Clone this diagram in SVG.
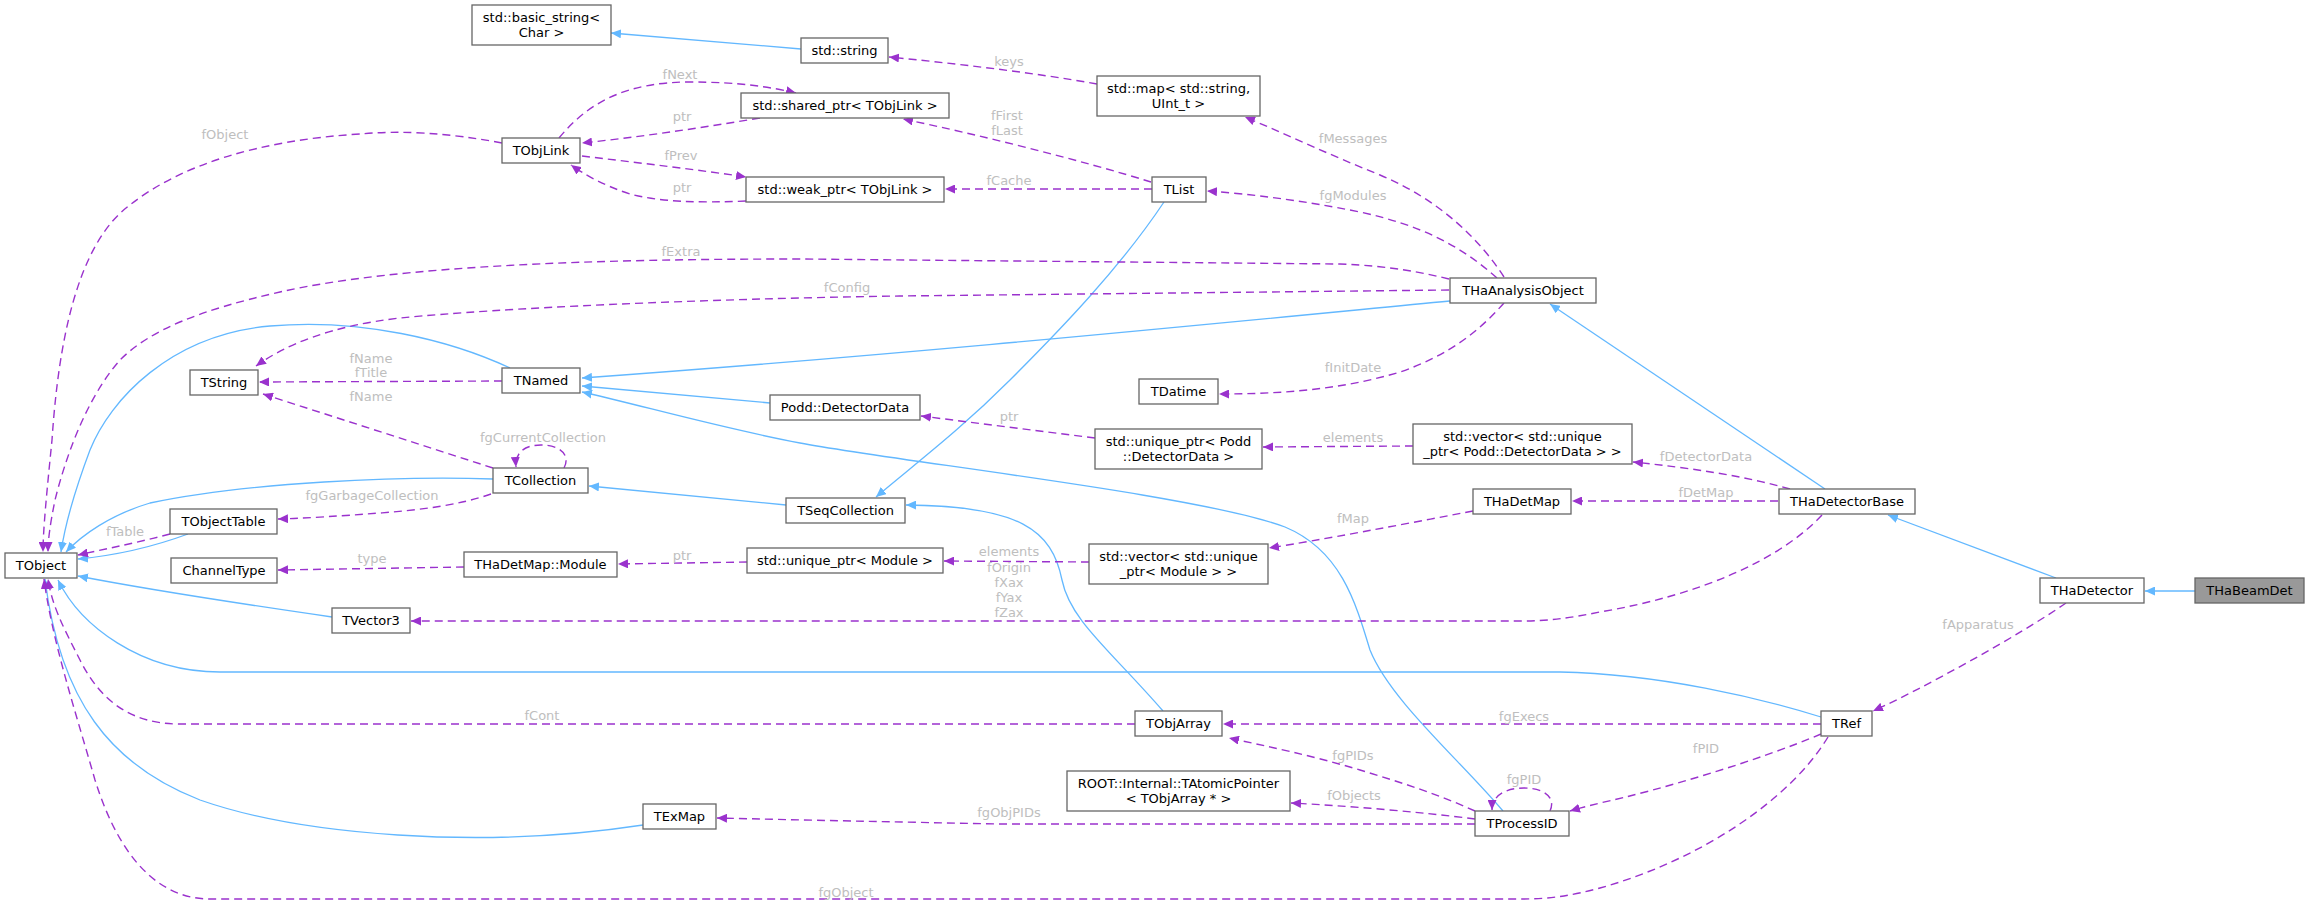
<svg xmlns="http://www.w3.org/2000/svg" width="2309" height="905" viewBox="0 0 2309 905">
<style>
.n rect{fill:#fff;stroke:#666;stroke-width:1.3}
.n text{font-family:"DejaVu Sans",sans-serif;font-size:13px;fill:#000;text-anchor:middle}
.cur rect{fill:#999}
.b{fill:none;stroke:#63b8ff;stroke-width:1.3}
.p{fill:none;stroke:#9a32cd;stroke-width:1.4;stroke-dasharray:8,5}
.l{font-family:"DejaVu Sans",sans-serif;font-size:13px;fill:#bebebe;text-anchor:middle}
</style>
<defs>
<marker id="ab" viewBox="0 0 10 9" refX="10" refY="4.5" markerWidth="10" markerHeight="9" markerUnits="userSpaceOnUse" orient="auto"><path d="M0,0 L10,4.5 L0,9 z" fill="#63b8ff"/></marker>
<marker id="ap" viewBox="0 0 10 9" refX="10" refY="4.5" markerWidth="10" markerHeight="9" markerUnits="userSpaceOnUse" orient="auto"><path d="M0,0 L10,4.5 L0,9 z" fill="#9a32cd"/></marker>
</defs>
<rect width="2309" height="905" fill="#fff"/>
<g id="edges">
<g marker-end="url(#ab)">
<path class="b" d="M801,49 L611,33"/>
<path class="b" d="M1164,202 C1120,268 1060,330 1010,380 C960,430 920,460 876,497"/>
<path class="b" d="M1450,301 C1200,325 900,355 582,378"/>
<path class="b" d="M510,368 C450,340 360,318 270,326 C170,335 110,400 90,450 C75,490 65,525 61,552"/>
<path class="b" d="M770,403 L582,386"/>
<path class="b" d="M1503,811 C1460,760 1390,700 1370,650 C1355,600 1340,550 1285,527 C1200,495 900,462 800,443 C720,428 640,405 582,392"/>
<path class="b" d="M493,479 C400,476 250,482 150,503 C110,515 82,535 66,552"/>
<path class="b" d="M786,505 L589,486"/>
<path class="b" d="M188,534 C150,548 110,556 78,559"/>
<path class="b" d="M332,617 C270,608 160,592 78,576"/>
<path class="b" d="M1163,711 C1110,650 1070,620 1062,580 C1052,530 1020,506 906,505"/>
<path class="b" d="M1821,717 C1760,698 1660,674 1560,672 L220,672 C140,672 80,625 58,580"/>
<path class="b" d="M643,825 C480,850 300,835 200,800 C110,765 60,700 45,579"/>
<path class="b" d="M1825,489 L1550,304"/>
<path class="b" d="M2056,578 L1888,515"/>
<path class="b" d="M2195,591 L2145,591"/>
</g>
<g marker-end="url(#ap)">
<path class="p" d="M502,143 C450,133 400,130 360,134 C260,140 180,165 130,205 C75,245 58,350 52,440 C47,490 43,530 43,552"/>
<path class="p" d="M559,138 C590,100 630,82 690,82 C740,82 770,87 796,93"/>
<path class="p" d="M760,118 C700,128 640,137 582,143"/>
<path class="p" d="M582,156 C640,163 700,170 746,177"/>
<path class="p" d="M746,201 C700,203 660,202 630,194 C605,186 585,175 571,165"/>
<path class="p" d="M1097,84 C1030,72 950,63 889,57"/>
<path class="p" d="M1151,182 C1080,160 980,135 903,119"/>
<path class="p" d="M1152,189 L945,189"/>
<path class="p" d="M1504,277 C1480,240 1440,200 1380,175 C1330,155 1290,136 1245,117"/>
<path class="p" d="M1497,278 C1460,245 1420,225 1360,212 C1300,200 1250,194 1207,191"/>
<path class="p" d="M1449,279 C1420,272 1390,266 1340,264 L800,259 C600,259 400,265 280,292 C200,310 150,330 120,360 C85,400 65,460 55,500 C50,525 48,540 48,552"/>
<path class="p" d="M1449,290 L900,296 C700,299 500,308 400,318 C330,326 285,345 256,366"/>
<path class="p" d="M502,381 L259,382"/>
<path class="p" d="M493,468 L263,394"/>
<path class="p" d="M564,468 C571,455 560,445 541,445 C524,445 515,453 516,467"/>
<path class="p" d="M491,494 C460,505 420,510 380,513 C340,516 310,518 278,519"/>
<path class="p" d="M170,534 C140,542 110,548 78,555"/>
<path class="p" d="M464,567 L278,570"/>
<path class="p" d="M747,562 L618,564"/>
<path class="p" d="M1095,438 L921,416"/>
<path class="p" d="M1413,446 L1263,447"/>
<path class="p" d="M1089,562 L944,561"/>
<path class="p" d="M1473,511 C1400,525 1320,540 1269,548"/>
<path class="p" d="M1504,303 C1480,330 1450,355 1400,372 C1340,390 1280,394 1219,394"/>
<path class="p" d="M1790,489 C1740,475 1690,468 1633,462"/>
<path class="p" d="M1778,501 L1572,501"/>
<path class="p" d="M1822,515 C1780,560 1700,595 1600,612 C1570,618 1550,621 1520,621 L411,621"/>
<path class="p" d="M2066,603 C2020,635 1920,690 1873,711"/>
<path class="p" d="M1821,724 L1223,724"/>
<path class="p" d="M1821,734 C1760,760 1660,790 1600,803 C1588,806 1580,808 1570,811"/>
<path class="p" d="M1828,737 C1790,800 1700,860 1600,888 C1570,896 1550,899 1520,899 L210,899 C160,899 120,860 95,780 C75,710 52,640 44,579"/>
<path class="p" d="M1135,724 L180,724 C130,724 100,700 80,660 C62,625 52,605 48,579"/>
<path class="p" d="M1550,811 C1556,798 1545,788 1524,788 C1505,788 1492,796 1492,810"/>
<path class="p" d="M1475,811 C1440,795 1400,782 1360,770 C1310,755 1270,747 1229,738"/>
<path class="p" d="M1475,819 C1420,812 1350,806 1291,803"/>
<path class="p" d="M1475,824 L1000,824 C900,822 800,820 717,818"/>
</g>
<text class="l" x="225" y="139">fObject</text>
<text class="l" x="680" y="79">fNext</text>
<text class="l" x="682" y="121">ptr</text>
<text class="l" x="681" y="160">fPrev</text>
<text class="l" x="682" y="192">ptr</text>
<text class="l" x="681" y="256">fExtra</text>
<text class="l" x="1009" y="66">keys</text>
<text class="l" x="1007" y="120">fFirst</text>
<text class="l" x="1007" y="135">fLast</text>
<text class="l" x="1009" y="185">fCache</text>
<text class="l" x="1353" y="143">fMessages</text>
<text class="l" x="1353" y="200">fgModules</text>
<text class="l" x="847" y="292">fConfig</text>
<text class="l" x="371" y="363">fName</text>
<text class="l" x="371" y="377">fTitle</text>
<text class="l" x="371" y="401">fName</text>
<text class="l" x="543" y="442">fgCurrentCollection</text>
<text class="l" x="372" y="500">fgGarbageCollection</text>
<text class="l" x="125" y="536">fTable</text>
<text class="l" x="372" y="563">type</text>
<text class="l" x="682" y="560">ptr</text>
<text class="l" x="1353" y="372">fInitDate</text>
<text class="l" x="1009" y="421">ptr</text>
<text class="l" x="1353" y="442">elements</text>
<text class="l" x="1353" y="523">fMap</text>
<text class="l" x="1009" y="556">elements</text>
<text class="l" x="1009" y="572">fOrigin</text>
<text class="l" x="1009" y="587">fXax</text>
<text class="l" x="1009" y="602">fYax</text>
<text class="l" x="1009" y="617">fZax</text>
<text class="l" x="1706" y="461">fDetectorData</text>
<text class="l" x="1706" y="497">fDetMap</text>
<text class="l" x="542" y="720">fCont</text>
<text class="l" x="1524" y="721">fgExecs</text>
<text class="l" x="1353" y="760">fgPIDs</text>
<text class="l" x="1354" y="800">fObjects</text>
<text class="l" x="1524" y="784">fgPID</text>
<text class="l" x="1009" y="817">fgObjPIDs</text>
<text class="l" x="846" y="897">fgObject</text>
<text class="l" x="1978" y="629">fApparatus</text>
<text class="l" x="1706" y="753">fPID</text>
</g>
<g id="THaBeamDet" class="n cur"><rect x="2195" y="578" width="109" height="25"/><text x="2249.5" y="595">THaBeamDet</text></g>
<g id="THaDetector" class="n"><rect x="2040" y="578" width="104" height="25"/><text x="2092" y="595">THaDetector</text></g>
<g id="THaDetectorBase" class="n"><rect x="1779" y="489" width="136" height="25"/><text x="1847" y="506">THaDetectorBase</text></g>
<g id="THaAnalysisObject" class="n"><rect x="1450" y="278" width="146" height="25"/><text x="1523" y="295">THaAnalysisObject</text></g>
<g id="TObject" class="n"><rect x="5" y="553" width="72" height="25"/><text x="41" y="570">TObject</text></g>
<g id="TObjLink" class="n"><rect x="502" y="138" width="78" height="25"/><text x="541" y="155">TObjLink</text></g>
<g id="shared_ptr" class="n"><rect x="741" y="93" width="208" height="25"/><text x="845" y="110">std::shared_ptr&lt; TObjLink &gt;</text></g>
<g id="weak_ptr" class="n"><rect x="746" y="177" width="198" height="25"/><text x="845" y="194">std::weak_ptr&lt; TObjLink &gt;</text></g>
<g id="std_string" class="n"><rect x="801" y="38" width="87" height="25"/><text x="844.5" y="55">std::string</text></g>
<g id="basic_string" class="n"><rect x="472" y="5" width="139" height="40"/><text x="541.5" y="22">std::basic_string&lt;</text><text x="541.5" y="37">Char &gt;</text></g>
<g id="std_map" class="n"><rect x="1097" y="76" width="163" height="40"/><text x="1178.5" y="93">std::map&lt; std::string,</text><text x="1178.5" y="108">UInt_t &gt;</text></g>
<g id="TList" class="n"><rect x="1152" y="177" width="54" height="25"/><text x="1179" y="194">TList</text></g>
<g id="TString" class="n"><rect x="190" y="370" width="68" height="25"/><text x="224" y="387">TString</text></g>
<g id="TNamed" class="n"><rect x="502" y="368" width="78" height="25"/><text x="541" y="385">TNamed</text></g>
<g id="DetectorData" class="n"><rect x="770" y="395" width="150" height="25"/><text x="845" y="412">Podd::DetectorData</text></g>
<g id="TCollection" class="n"><rect x="493" y="468" width="95" height="25"/><text x="540.5" y="485">TCollection</text></g>
<g id="TSeqCollection" class="n"><rect x="786" y="498" width="119" height="25"/><text x="845.5" y="515">TSeqCollection</text></g>
<g id="TObjectTable" class="n"><rect x="170" y="509" width="107" height="25"/><text x="223.5" y="526">TObjectTable</text></g>
<g id="ChannelType" class="n"><rect x="171" y="558" width="106" height="25"/><text x="224" y="575">ChannelType</text></g>
<g id="Module" class="n"><rect x="464" y="552" width="153" height="25"/><text x="540.5" y="569">THaDetMap::Module</text></g>
<g id="unique_ptr_Module" class="n"><rect x="747" y="548" width="196" height="25"/><text x="845" y="565">std::unique_ptr&lt; Module &gt;</text></g>
<g id="TDatime" class="n"><rect x="1139" y="379" width="79" height="25"/><text x="1178.5" y="396">TDatime</text></g>
<g id="unique_ptr_DD" class="n"><rect x="1095" y="429" width="167" height="40"/><text x="1178.5" y="446">std::unique_ptr&lt; Podd</text><text x="1178.5" y="461">::DetectorData &gt;</text></g>
<g id="vector_DD" class="n"><rect x="1413" y="424" width="219" height="40"/><text x="1522.5" y="441">std::vector&lt; std::unique</text><text x="1522.5" y="456">_ptr&lt; Podd::DetectorData &gt; &gt;</text></g>
<g id="THaDetMap" class="n"><rect x="1473" y="489" width="98" height="25"/><text x="1522" y="506">THaDetMap</text></g>
<g id="vector_Module" class="n"><rect x="1089" y="544" width="179" height="40"/><text x="1178.5" y="561">std::vector&lt; std::unique</text><text x="1178.5" y="576">_ptr&lt; Module &gt; &gt;</text></g>
<g id="TVector3" class="n"><rect x="332" y="608" width="78" height="25"/><text x="371" y="625">TVector3</text></g>
<g id="TObjArray" class="n"><rect x="1135" y="711" width="87" height="25"/><text x="1178.5" y="728">TObjArray</text></g>
<g id="TRef" class="n"><rect x="1821" y="711" width="51" height="25"/><text x="1846.5" y="728">TRef</text></g>
<g id="TAtomicPointer" class="n"><rect x="1067" y="771" width="223" height="40"/><text x="1178.5" y="788">ROOT::Internal::TAtomicPointer</text><text x="1178.5" y="803">&lt; TObjArray * &gt;</text></g>
<g id="TProcessID" class="n"><rect x="1475" y="811" width="94" height="25"/><text x="1522" y="828">TProcessID</text></g>
<g id="TExMap" class="n"><rect x="643" y="804" width="73" height="25"/><text x="679.5" y="821">TExMap</text></g>
</svg>
